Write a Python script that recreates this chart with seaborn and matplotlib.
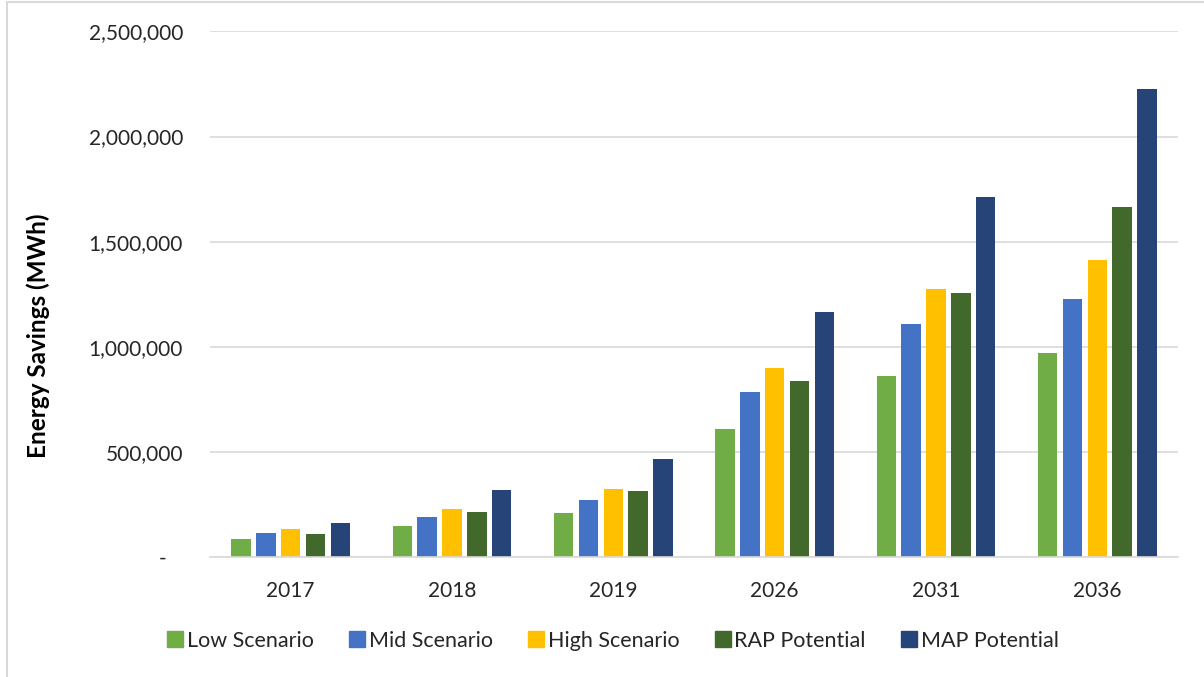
import matplotlib
matplotlib.use("Agg")
import matplotlib.pyplot as plt
import matplotlib.ticker as mticker
from matplotlib.lines import Line2D
import seaborn as sns
import pandas as pd

years = ["2017", "2018", "2019", "2026", "2031", "2036"]
series_names = ["Low Scenario", "Mid Scenario", "High Scenario", "RAP Potential", "MAP Potential"]
low_scenario = [87000, 149000, 209000, 608000, 863000, 970000]
mid_scenario = [114000, 193000, 272000, 787000, 1107000, 1226000]
high_scenario = [136000, 230000, 323000, 900000, 1277000, 1415000]
rap_potential = [111000, 215000, 317000, 838000, 1255000, 1666000]
map_potential = [163000, 318000, 467000, 1166000, 1711000, 2227000]
colors = ["#70AD47", "#4472C4", "#FFC000", "#43682B", "#264478"]

rows = []
for name, vals in zip(series_names, [low_scenario, mid_scenario, high_scenario, rap_potential, map_potential]):
    for y, v in zip(years, vals):
        rows.append({"Year": y, "Series": name, "Value": v})
df = pd.DataFrame(rows)

sns.set_theme(style="white")
plt.rcParams['font.family'] = ['Lato', 'DejaVu Sans']

fig = plt.figure(figsize=(12.04, 6.77), dpi=100)
ax = fig.add_axes([210/1204, 1-557.3/677, (1178-210)/1204, (557.3-31.3)/677])

sns.barplot(data=df, x="Year", y="Value", hue="Series", order=years, hue_order=series_names,
            palette=colors, width=0.77, gap=0.22, saturation=1, ax=ax, legend=False,
            edgecolor="none", err_kws={"linewidth": 0})

ax.set_ylim(0, 2500000)
ax.set_yticks([0, 500000, 1000000, 1500000, 2000000, 2500000])
ax.yaxis.set_major_formatter(mticker.FuncFormatter(lambda v, p: "-   " if v == 0 else f"{v:,.0f}"))
ax.yaxis.grid(True, color="#D9D9D9", linewidth=1.2)
ax.set_axisbelow(True)
for s in ["top", "right", "left"]:
    ax.spines[s].set_visible(False)
ax.spines["bottom"].set_color("#D9D9D9")
ax.spines["bottom"].set_linewidth(1.2)
ax.tick_params(axis="both", length=0, labelsize=15, colors="#262626")
ax.tick_params(axis="y", pad=19.5)
ax.tick_params(axis="x", pad=17)
ax.set_xlabel("")
ax.set_ylabel("Energy Savings (MWh)", fontsize=17.5, fontweight="bold", color="#000000")
ax.yaxis.set_label_coords((50-210)/968, (557.3-336)/526)

handles = [Line2D([0], [0], marker="s", linestyle="none", markersize=11, markerfacecolor=c,
                  markeredgecolor=c) for c in colors]
fig.legend(handles, series_names, loc="center", bbox_to_anchor=(0.508, 1-641/677), ncol=5,
           frameon=False, fontsize=15.5, handletextpad=0.05, columnspacing=1.5, handlelength=1.0)

# figure border lines (left and top)
fig.add_artist(Line2D([7/1204, 7/1204], [0, 1-2/677], color="#D9D9D9", linewidth=1.5))
fig.add_artist(Line2D([7/1204, 1], [1-2/677, 1-2/677], color="#D9D9D9", linewidth=1.5))

fig.savefig("out.png", dpi=100)
